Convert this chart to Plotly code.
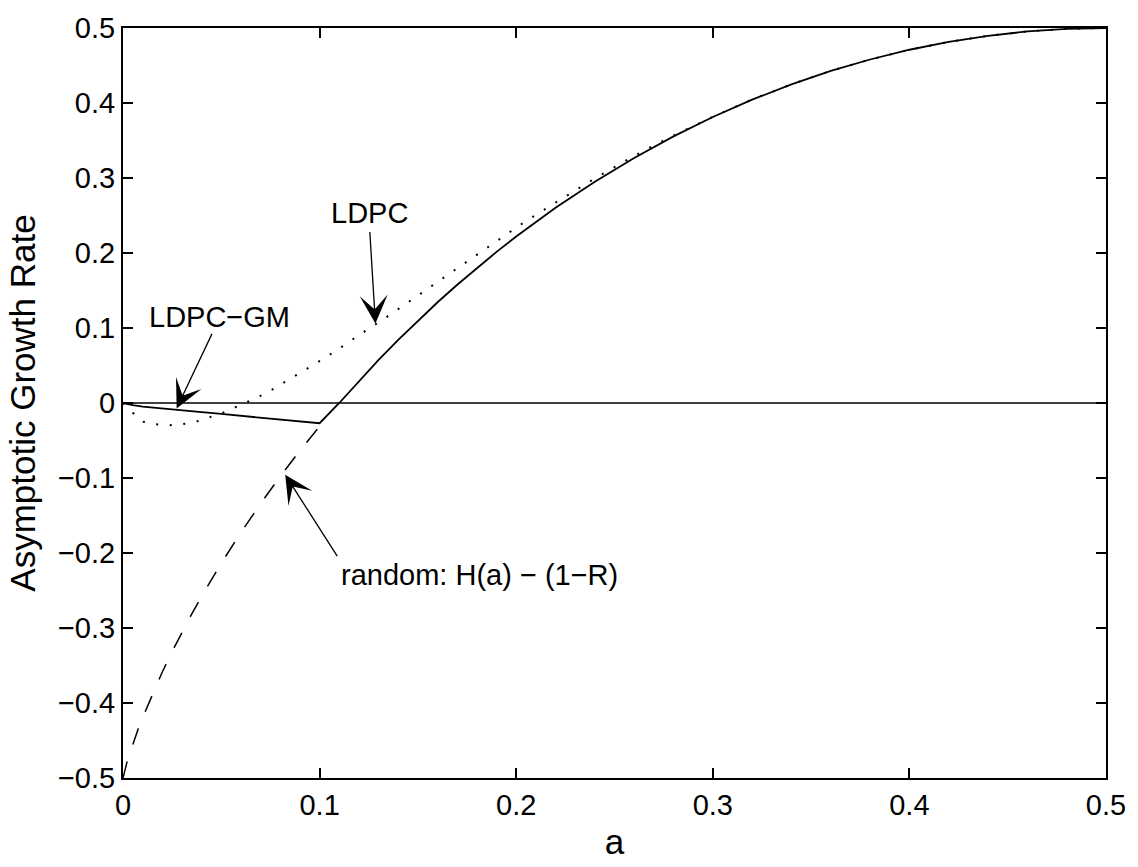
import plotly.graph_objects as go

# ---------------- data ----------------
# LDPC-GM (solid): slightly negative for a < 0.1, then follows H(a) - (1-R)
gm_a = [0, 0.0025, 0.005, 0.01, 0.02, 0.03, 0.04, 0.05, 0.06, 0.07, 0.08, 0.09, 0.1,
        0.11, 0.12, 0.13, 0.14, 0.15, 0.16, 0.17, 0.18, 0.19, 0.2, 0.22, 0.24,
        0.26, 0.28, 0.3, 0.32, 0.34, 0.36, 0.38, 0.4, 0.42, 0.44, 0.46, 0.48, 0.5]
gm_rate = [0, -0.0015, -0.0028, -0.0048, -0.0075, -0.0098, -0.0122, -0.0146, -0.0171,
           -0.0196, -0.022, -0.0245, -0.027,
           0.0, 0.0294, 0.0574, 0.0842, 0.1098, 0.1343, 0.1577, 0.1801,
           0.2015, 0.2219, 0.2602, 0.295, 0.3267, 0.3555, 0.3813, 0.4044, 0.4248,
           0.4427, 0.458, 0.471, 0.4815, 0.4896, 0.4954, 0.4988, 0.5]

# LDPC (dotted)
ldpc_a = [0, 0.005, 0.0103, 0.0167, 0.0237, 0.03, 0.037, 0.0437, 0.05, 0.0562, 0.0626,
          0.0687, 0.0747, 0.0806, 0.0862, 0.0923, 0.098, 0.1037, 0.1093, 0.115, 0.1208,
          0.1265, 0.132, 0.1375, 0.143, 0.1486, 0.1543, 0.16, 0.1655, 0.171, 0.1766,
          0.182, 0.1878, 0.1935, 0.199, 0.2046, 0.2104, 0.216, 0.2218, 0.2275, 0.2333,
          0.239, 0.2448, 0.2508, 0.2566, 0.2626, 0.2687, 0.28, 0.30, 0.32, 0.34, 0.36,
          0.38, 0.40, 0.42, 0.44, 0.46, 0.48, 0.50]
ldpc_rate = [0, -0.013, -0.025, -0.0284, -0.0297, -0.0284, -0.025, -0.0198, -0.014,
             -0.0068, 0.0003, 0.008, 0.016, 0.025, 0.0335, 0.0436, 0.0527, 0.0618,
             0.0713, 0.0817, 0.0913, 0.1008, 0.111, 0.1207, 0.1307, 0.1414, 0.1515,
             0.1615, 0.172, 0.182, 0.192, 0.202, 0.2124, 0.2225, 0.232, 0.242, 0.2515,
             0.2614, 0.2705, 0.2796, 0.2887, 0.2978, 0.307, 0.3157, 0.3244, 0.333,
             0.3417, 0.3565, 0.3815, 0.4046, 0.4249, 0.4428, 0.458, 0.471, 0.4815,
             0.4896, 0.4954, 0.4988, 0.5]

# random coding: H(a) - (1-R)  (dashed, a < 0.1)
rand_a = [0, 0.001, 0.002, 0.003, 0.005, 0.0075, 0.01, 0.015, 0.02, 0.025, 0.03,
          0.035, 0.04, 0.05, 0.06, 0.07, 0.08, 0.09, 0.1]
rand_rate = [-0.5, -0.4886, -0.4792, -0.4705, -0.4546, -0.4363, -0.4192, -0.3876,
             -0.3586, -0.3313, -0.3056, -0.2811, -0.2577, -0.2136, -0.1726, -0.1341,
             -0.0978, -0.0635, -0.031]

# zero reference line
zero_a = [0, 0.5]
zero_rate = [0, 0]

# annotation labels and their arrow tips (data coords)
labels = ["LDPC", "LDPC−GM", "random: H(a) − (1−R)"]
tip_a = [0.1284, 0.0273, 0.0825]
tip_rate = [0.106, -0.0072, -0.0956]
label_a = [0.1255, 0.0491, 0.1098]
label_rate = [0.2529, 0.1151, -0.2295]

x_ticks = [0, 0.1, 0.2, 0.3, 0.4, 0.5]
y_ticks = [-0.5, -0.4, -0.3, -0.2, -0.1, 0, 0.1, 0.2, 0.3, 0.4, 0.5]

# ---------------- figure ----------------
FONT = "Liberation Sans, Arial, Helvetica, sans-serif"
fig = go.Figure()

fig.add_trace(go.Scatter(x=rand_a, y=rand_rate, mode="lines",
                         line=dict(color="black", width=1.5, dash="17px,18px"),
                         showlegend=False))
fig.add_trace(go.Scatter(x=ldpc_a, y=ldpc_rate, mode="lines",
                         line=dict(color="black", width=2, dash="2px,11.6px"),
                         showlegend=False))
fig.add_trace(go.Scatter(x=zero_a, y=zero_rate, mode="lines",
                         line=dict(color="black", width=1.5), showlegend=False))
fig.add_trace(go.Scatter(x=gm_a, y=gm_rate, mode="lines",
                         line=dict(color="black", width=1.8), showlegend=False))

annotations = []
# arrows (tail offsets in pixels)
tails = [(-5.7, -93), (36, -76), (53, 83)]
for ta, tr, (ax, ay) in zip(tip_a, tip_rate, tails):
    annotations.append(dict(x=ta, y=tr, xref="x", yref="y", ax=ax, ay=ay,
                            axref="pixel", ayref="pixel", text="", showarrow=True,
                            arrowhead=3, arrowsize=3.6, arrowwidth=1.3,
                            arrowcolor="black"))
anchors = ["center", "center", "left"]
for txt, la, lr, anc in zip(labels, label_a, label_rate, anchors):
    annotations.append(dict(x=la, y=lr, xref="x", yref="y", text=txt,
                            showarrow=False, xanchor=anc, yanchor="middle",
                            font=dict(family=FONT, size=29, color="black")))

fig.update_layout(
    width=1138, height=867,
    margin=dict(l=123, r=27, t=17, b=81),
    paper_bgcolor="white", plot_bgcolor="white",
    font=dict(family=FONT, size=29, color="black"),
    annotations=annotations,
    xaxis=dict(range=[0, 0.5], tickvals=x_ticks, ticktext=[f"{v:g}" for v in x_ticks],
               ticks="inside", ticklen=10, tickwidth=1.5, tickcolor="black",
               showline=True, linecolor="black", linewidth=2, mirror="ticks",
               showgrid=False, zeroline=False,
               title=dict(text="a", standoff=10),
               tickfont=dict(family=FONT, size=29, color="black")),
    yaxis=dict(range=[-0.5, 0.5], tickvals=y_ticks,
               ticktext=[(f"{v:g}").replace("-", "\u2212") for v in y_ticks],
               ticks="inside", ticklen=10, tickwidth=1.5, tickcolor="black",
               showline=True, linecolor="black", linewidth=2, mirror="ticks",
               showgrid=False, zeroline=False,
               title=dict(text="Asymptotic Growth Rate", standoff=12),
               tickfont=dict(family=FONT, size=29, color="black")),
)

fig.write_html("out.html")
